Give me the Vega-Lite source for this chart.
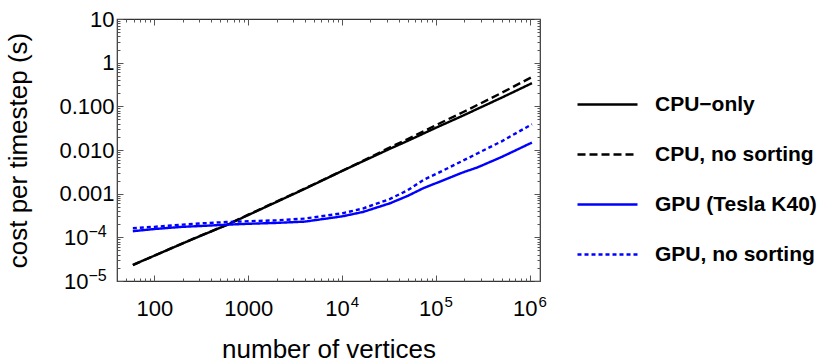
{
  "$schema": "https://vega.github.io/schema/vega-lite/v6.json",
  "width": 423,
  "height": 262,
  "autosize": {"type": "none"},
  "padding": {"left": 117, "top": 19, "right": 290, "bottom": 83},
  "background": "white",
  "config": {
    "view": {"stroke": "#333333", "strokeWidth": 1.2},
    "font": "Liberation Sans",
    "axis": {
      "grid": false,
      "domain": false,
      "labelFont": "Liberation Sans",
      "labelFontSize": 22,
      "labelColor": "black",
      "titleFont": "Liberation Sans",
      "titleFontSize": 26,
      "titleFontWeight": "normal",
      "titleColor": "black",
      "tickColor": "#555555",
      "labelOverlap": false,
      "labelFlush": false,
      "labelBound": false
    }
  },
  "data": {
    "values": [
      {"series": "CPU\u2212only", "vertices": 59, "cost": 2.34e-5},
      {"series": "CPU\u2212only", "vertices": 100, "cost": 3.8e-5},
      {"series": "CPU\u2212only", "vertices": 200, "cost": 7.24e-5},
      {"series": "CPU\u2212only", "vertices": 316, "cost": 1.10e-4},
      {"series": "CPU\u2212only", "vertices": 590, "cost": 1.91e-4},
      {"series": "CPU\u2212only", "vertices": 1000, "cost": 3.24e-4},
      {"series": "CPU\u2212only", "vertices": 2000, "cost": 6.46e-4},
      {"series": "CPU\u2212only", "vertices": 4000, "cost": 1.29e-3},
      {"series": "CPU\u2212only", "vertices": 10000, "cost": 3.31e-3},
      {"series": "CPU\u2212only", "vertices": 16600, "cost": 5.5e-3},
      {"series": "CPU\u2212only", "vertices": 32400, "cost": 1.07e-2},
      {"series": "CPU\u2212only", "vertices": 50000, "cost": 1.62e-2},
      {"series": "CPU\u2212only", "vertices": 74000, "cost": 2.40e-2},
      {"series": "CPU\u2212only", "vertices": 100000, "cost": 3.24e-2},
      {"series": "CPU\u2212only", "vertices": 195000, "cost": 6.17e-2},
      {"series": "CPU\u2212only", "vertices": 275000, "cost": 8.71e-2},
      {"series": "CPU\u2212only", "vertices": 500000, "cost": 0.158},
      {"series": "CPU\u2212only", "vertices": 1050000, "cost": 0.339},

      {"series": "CPU, no sorting", "vertices": 59, "cost": 2.32e-5},
      {"series": "CPU, no sorting", "vertices": 100, "cost": 3.8e-5},
      {"series": "CPU, no sorting", "vertices": 200, "cost": 7.3e-5},
      {"series": "CPU, no sorting", "vertices": 316, "cost": 1.11e-4},
      {"series": "CPU, no sorting", "vertices": 590, "cost": 1.93e-4},
      {"series": "CPU, no sorting", "vertices": 1000, "cost": 3.3e-4},
      {"series": "CPU, no sorting", "vertices": 2000, "cost": 6.6e-4},
      {"series": "CPU, no sorting", "vertices": 4000, "cost": 1.31e-3},
      {"series": "CPU, no sorting", "vertices": 10000, "cost": 3.35e-3},
      {"series": "CPU, no sorting", "vertices": 16600, "cost": 5.62e-3},
      {"series": "CPU, no sorting", "vertices": 32400, "cost": 1.15e-2},
      {"series": "CPU, no sorting", "vertices": 50000, "cost": 1.78e-2},
      {"series": "CPU, no sorting", "vertices": 74000, "cost": 2.69e-2},
      {"series": "CPU, no sorting", "vertices": 100000, "cost": 3.72e-2},
      {"series": "CPU, no sorting", "vertices": 195000, "cost": 7.41e-2},
      {"series": "CPU, no sorting", "vertices": 275000, "cost": 0.107},
      {"series": "CPU, no sorting", "vertices": 500000, "cost": 0.204},
      {"series": "CPU, no sorting", "vertices": 1050000, "cost": 0.468},

      {"series": "GPU (Tesla K40)", "vertices": 59, "cost": 1.38e-4},
      {"series": "GPU (Tesla K40)", "vertices": 100, "cost": 1.55e-4},
      {"series": "GPU (Tesla K40)", "vertices": 200, "cost": 1.74e-4},
      {"series": "GPU (Tesla K40)", "vertices": 316, "cost": 1.82e-4},
      {"series": "GPU (Tesla K40)", "vertices": 590, "cost": 1.95e-4},
      {"series": "GPU (Tesla K40)", "vertices": 1000, "cost": 2.04e-4},
      {"series": "GPU (Tesla K40)", "vertices": 2000, "cost": 2.14e-4},
      {"series": "GPU (Tesla K40)", "vertices": 4000, "cost": 2.29e-4},
      {"series": "GPU (Tesla K40)", "vertices": 10000, "cost": 3.02e-4},
      {"series": "GPU (Tesla K40)", "vertices": 16600, "cost": 3.80e-4},
      {"series": "GPU (Tesla K40)", "vertices": 32400, "cost": 6.03e-4},
      {"series": "GPU (Tesla K40)", "vertices": 50000, "cost": 8.91e-4},
      {"series": "GPU (Tesla K40)", "vertices": 74000, "cost": 1.35e-3},
      {"series": "GPU (Tesla K40)", "vertices": 100000, "cost": 1.74e-3},
      {"series": "GPU (Tesla K40)", "vertices": 195000, "cost": 3.09e-3},
      {"series": "GPU (Tesla K40)", "vertices": 275000, "cost": 3.98e-3},
      {"series": "GPU (Tesla K40)", "vertices": 500000, "cost": 6.92e-3},
      {"series": "GPU (Tesla K40)", "vertices": 1050000, "cost": 1.48e-2},

      {"series": "GPU, no sorting", "vertices": 59, "cost": 1.62e-4},
      {"series": "GPU, no sorting", "vertices": 100, "cost": 1.74e-4},
      {"series": "GPU, no sorting", "vertices": 200, "cost": 1.95e-4},
      {"series": "GPU, no sorting", "vertices": 316, "cost": 2.09e-4},
      {"series": "GPU, no sorting", "vertices": 590, "cost": 2.24e-4},
      {"series": "GPU, no sorting", "vertices": 1000, "cost": 2.34e-4},
      {"series": "GPU, no sorting", "vertices": 2000, "cost": 2.45e-4},
      {"series": "GPU, no sorting", "vertices": 4000, "cost": 2.69e-4},
      {"series": "GPU, no sorting", "vertices": 10000, "cost": 3.55e-4},
      {"series": "GPU, no sorting", "vertices": 16600, "cost": 4.57e-4},
      {"series": "GPU, no sorting", "vertices": 32400, "cost": 7.59e-4},
      {"series": "GPU, no sorting", "vertices": 50000, "cost": 1.20e-3},
      {"series": "GPU, no sorting", "vertices": 74000, "cost": 2.09e-3},
      {"series": "GPU, no sorting", "vertices": 100000, "cost": 2.82e-3},
      {"series": "GPU, no sorting", "vertices": 195000, "cost": 5.75e-3},
      {"series": "GPU, no sorting", "vertices": 275000, "cost": 8.32e-3},
      {"series": "GPU, no sorting", "vertices": 500000, "cost": 1.58e-2},
      {"series": "GPU, no sorting", "vertices": 1050000, "cost": 3.89e-2}
    ]
  },
  "resolve": {"axis": {"x": "independent", "y": "independent"}},
  "layer": [
    {
      "mark": {"type": "line", "opacity": 0, "clip": true},
      "encoding": {
        "detail": {"field": "series", "type": "nominal"},
        "x": {
          "field": "vertices", "type": "quantitative",
          "scale": {"type": "log", "domain": [40, 1280000], "nice": false},
          "axis": {
            "orient": "top", "title": null, "labels": false,
            "values": [50,60,70,80,90,100,200,300,400,500,600,700,800,900,1000,2000,3000,4000,5000,6000,7000,8000,9000,10000,20000,30000,40000,50000,60000,70000,80000,90000,100000,200000,300000,400000,500000,600000,700000,800000,900000,1000000],
            "tickSize": {"condition": {"test": "indexof([100,1000,10000,100000,1000000], datum.value) >= 0", "value": -6}, "value": -3}
          }
        },
        "y": {
          "field": "cost", "type": "quantitative",
          "scale": {"type": "log", "domain": [0.00001, 10], "nice": false},
          "axis": {
            "orient": "right", "title": null, "labels": false,
            "values": [0.00001,0.00002,0.00003,0.00004,0.00005,0.00006,0.00007,0.00008,0.00009,0.0001,0.0002,0.0003,0.0004,0.0005,0.0006,0.0007,0.0008,0.0009,0.001,0.002,0.003,0.004,0.005,0.006,0.007,0.008,0.009,0.01,0.02,0.03,0.04,0.05,0.06,0.07,0.08,0.09,0.1,0.2,0.3,0.4,0.5,0.6,0.7,0.8,0.9,1,2,3,4,5,6,7,8,9,10],
            "tickSize": {"condition": {"test": "indexof([0.00001,0.0001,0.001,0.01,0.1,1,10], datum.value) >= 0", "value": -6}, "value": -3}
          }
        }
      }
    },
    {
      "mark": {"type": "line", "opacity": 0, "clip": true},
      "encoding": {
        "detail": {"field": "series", "type": "nominal"},
        "x": {
          "field": "vertices", "type": "quantitative",
          "scale": {"type": "log", "domain": [40, 1280000], "nice": false},
          "axis": {
            "orient": "bottom", "title": null, "offset": 0,
            "values": [10000, 100000, 1000000],
            "tickSize": -6, "tickOpacity": 0,
            "labelPadding": 19,
            "labelFontSize": 15,
            "labelAlign": "left",
            "labelOffset": 8,
            "labelExpr": "datum.value == 10000 ? '4' : datum.value == 100000 ? '5' : '6'"
          }
        },
        "y": {
          "field": "cost", "type": "quantitative",
          "scale": {"type": "log", "domain": [0.00001, 10], "nice": false},
          "axis": {
            "orient": "left", "title": null, "offset": 0,
            "values": [0.00001, 0.0001],
            "tickSize": -6, "tickOpacity": 0,
            "labelPadding": 35,
            "labelFontSize": 16,
            "labelAlign": "left",
            "labelOffset": -6,
            "labelExpr": "datum.value < 0.00005 ? '\u22125' : '\u22124'"
          }
        }
      }
    },
    {
      "mark": {"type": "line", "clip": true, "strokeCap": "butt"},
      "encoding": {
        "x": {
          "field": "vertices", "type": "quantitative",
          "scale": {"type": "log", "domain": [40, 1280000], "nice": false},
          "axis": {
            "orient": "bottom", "title": "number of vertices",
            "values": [50,60,70,80,90,100,200,300,400,500,600,700,800,900,1000,2000,3000,4000,5000,6000,7000,8000,9000,10000,20000,30000,40000,50000,60000,70000,80000,90000,100000,200000,300000,400000,500000,600000,700000,800000,900000,1000000],
            "tickSize": {"condition": {"test": "indexof([100,1000,10000,100000,1000000], datum.value) >= 0", "value": -6}, "value": -3},
            "labelPadding": 23,
            "titlePadding": 14,
            "labelAlign": {"condition": {"test": "datum.value >= 10000", "value": "right"}, "value": "center"},
            "labelOffset": {"condition": {"test": "datum.value >= 10000", "value": 7}, "value": 0},
            "labelExpr": "datum.value == 100 ? '100' : datum.value == 1000 ? '1000' : (datum.value == 10000 || datum.value == 100000 || datum.value == 1000000) ? '10' : ''"
          }
        },
        "y": {
          "field": "cost", "type": "quantitative",
          "scale": {"type": "log", "domain": [0.00001, 10], "nice": false},
          "axis": {
            "orient": "left", "title": "cost per timestep (s)",
            "values": [0.00001,0.00002,0.00003,0.00004,0.00005,0.00006,0.00007,0.00008,0.00009,0.0001,0.0002,0.0003,0.0004,0.0005,0.0006,0.0007,0.0008,0.0009,0.001,0.002,0.003,0.004,0.005,0.006,0.007,0.008,0.009,0.01,0.02,0.03,0.04,0.05,0.06,0.07,0.08,0.09,0.1,0.2,0.3,0.4,0.5,0.6,0.7,0.8,0.9,1,2,3,4,5,6,7,8,9,10],
            "tickSize": {"condition": {"test": "indexof([0.00001,0.0001,0.001,0.01,0.1,1,10], datum.value) >= 0", "value": -6}, "value": -3},
            "labelPadding": {"condition": {"test": "datum.value == 0.00001 || datum.value == 0.0001", "value": 35}, "value": 9},
            "titlePadding": 27,
            "labelExpr": "(datum.value == 0.00001 || datum.value == 0.0001) ? '10' : datum.value == 0.001 ? '0.001' : datum.value == 0.01 ? '0.010' : datum.value == 0.1 ? '0.100' : datum.value == 1 ? '1' : datum.value == 10 ? '10' : ''"
          }
        },
        "color": {
          "field": "series", "type": "nominal",
          "scale": {
            "domain": ["CPU\u2212only", "CPU, no sorting", "GPU (Tesla K40)", "GPU, no sorting"],
            "range": ["#000000", "#000000", "#0000ff", "#0000ff"]
          },
          "legend": {
            "title": null,
            "orient": "none",
            "legendX": 464,
            "legendY": 59,
            "symbolType": "M-1.2,0H1.2",
            "symbolSize": 2500,
            "labelFont": "Liberation Sans",
            "labelFontSize": 21,
            "labelFontWeight": "bold",
            "labelColor": "black",
            "labelOffset": 21,
            "rowPadding": 13,
            "labelLimit": 400
          }
        },
        "strokeDash": {
          "field": "series", "type": "nominal",
          "scale": {
            "domain": ["CPU\u2212only", "CPU, no sorting", "GPU (Tesla K40)", "GPU, no sorting"],
            "range": [[1, 0], [8, 4], [1, 0], [4, 3]]
          }
        },
        "strokeWidth": {
          "field": "series", "type": "nominal",
          "scale": {
            "domain": ["CPU\u2212only", "CPU, no sorting", "GPU (Tesla K40)", "GPU, no sorting"],
            "range": [2.4, 2.4, 3.6, 3]
          }
        }
      }
    }
  ]
}
